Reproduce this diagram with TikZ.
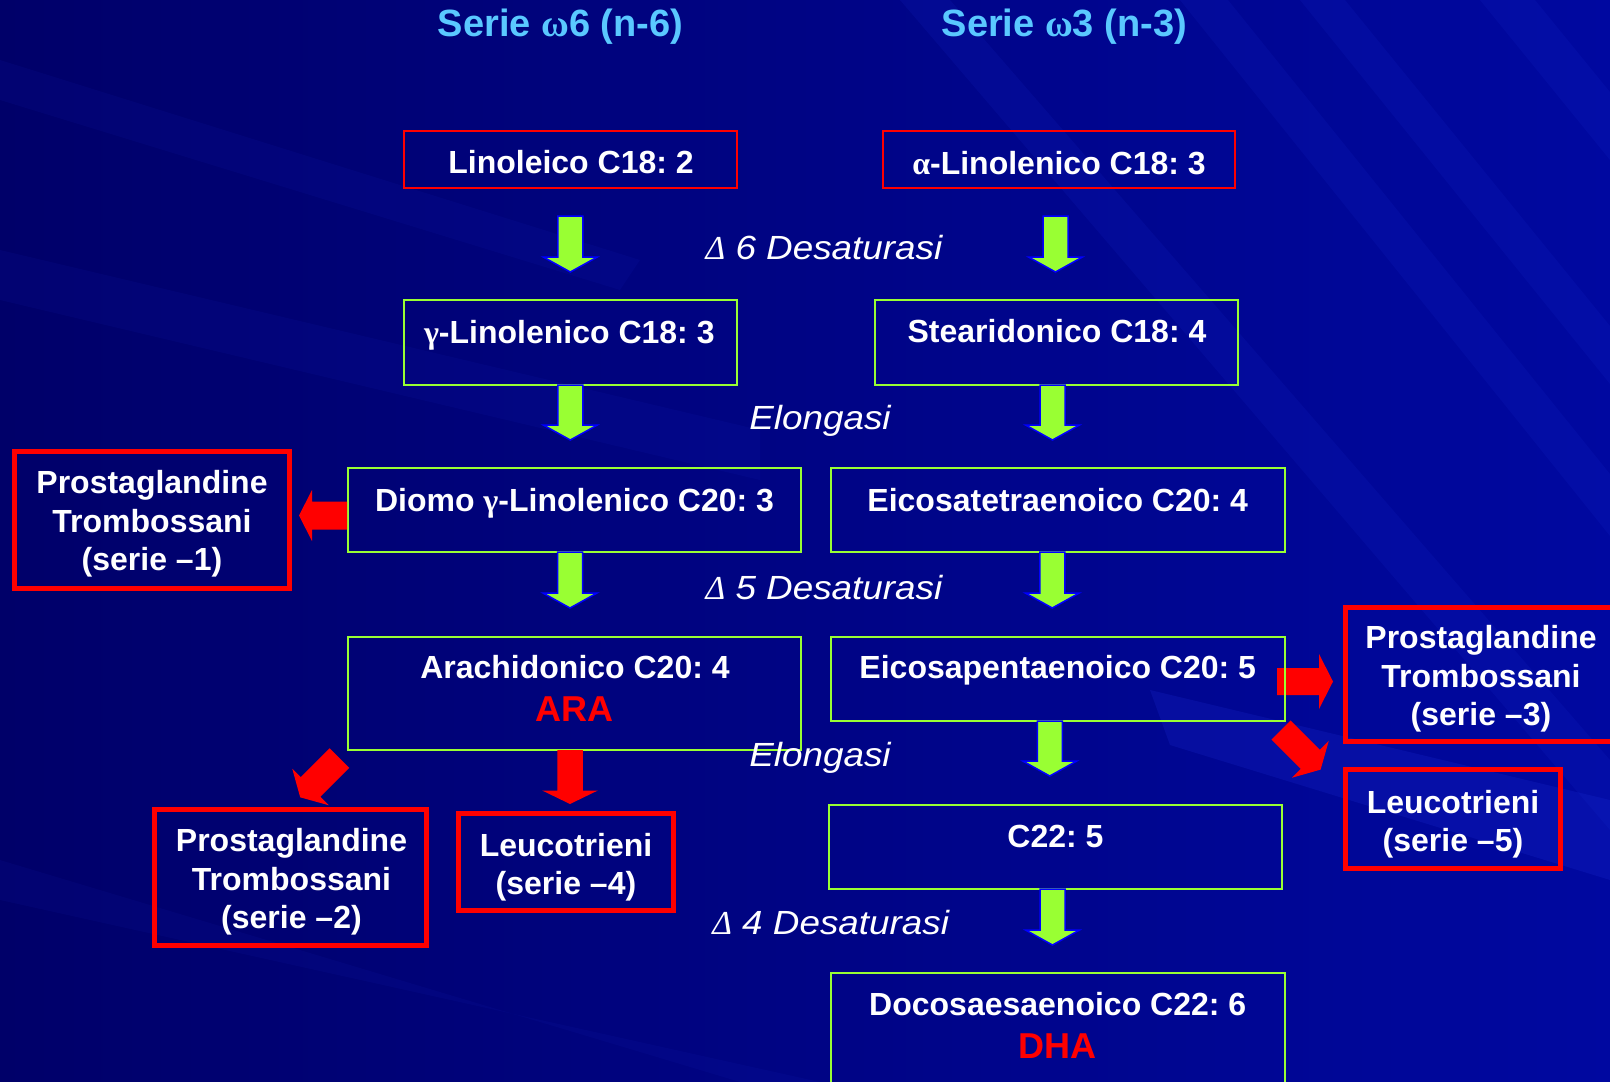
\documentclass[tikz,border=0pt]{standalone}
\usepackage{fontspec}
\setmainfont{Liberation Sans}
\newfontfamily\grk{Liberation Serif}
\newfontfamily\labf{Liberation Sans}[FakeStretch=1.1]
\usetikzlibrary{calc}
\frenchspacing
\definecolor{bgA}{RGB}{0,0,105}
\definecolor{bgB}{RGB}{0,8,160}
\definecolor{streak}{RGB}{30,50,220}
\definecolor{gline}{RGB}{153,255,51}
\definecolor{garredge}{RGB}{0,0,255}
\definecolor{headc}{RGB}{90,200,255}
\definecolor{rline}{RGB}{255,0,0}
\pgfdeclarelayer{bg}
\pgfdeclarelayer{back}
\pgfsetlayers{bg,back,main}
% #1 style, #2 start, #3 angle, #4 length, #5 head length, #6 shaft half width, #7 head half width
\newcommand\blockarrow[7]{%
  \path[#1, shift={#2}, rotate=#3] (0,#6) -- ({#4-#5},#6) -- ({#4-#5},#7) -- (#4,0)
     -- ({#4-#5},-#7) -- ({#4-#5},-#6) -- (0,-#6) -- cycle;}
\tikzset{
  thinred/.style={draw=rline, line width=2pt, inner sep=0pt, outer sep=0pt},
  gbox/.style={draw=gline, line width=2pt, inner sep=0pt, outer sep=0pt},
  pbox/.style={draw=rline, line width=5pt, inner sep=0pt, outer sep=0pt},
  btxt/.style={text=white, inner sep=0pt, font=\fontsize{32}{38.5}\selectfont\bfseries, text height=22.9pt, text depth=0pt},
  mtxt/.style={text=white, inner sep=0pt, align=center, font=\fontsize{32}{38.5}\selectfont\bfseries},
  bigred/.style={text=rline, inner sep=0pt, font=\fontsize{36}{40}\selectfont\bfseries, text height=25.8pt, text depth=0pt},
  headtxt/.style={text=headc, inner sep=0pt, font=\fontsize{38}{42}\selectfont\bfseries, text height=27.2pt, text depth=0pt},
  labtxt/.style={text=white, inner sep=0pt, font=\labf\fontsize{33.5}{38}\selectfont\itshape, text height=24pt, text depth=0pt},
  garr/.style={fill=gline, draw=garredge, line width=1.5pt, line join=miter},
  rarr/.style={fill=rline},
  streakfill/.style={fill=streak, opacity=0.12}
}
\begin{document}
\begin{tikzpicture}[x=1pt,y=1pt]
\useasboundingbox (0,0) rectangle (1610,-1082);
\begin{pgfonlayer}{bg}
  \shade[left color=bgA, right color=bgB] (0,0) rectangle (1610,-1082);
  \fill[streakfill] (1180,0) -- (1228,0) -- (1610,-474) -- (1610,-536) -- cycle;
  \fill[streakfill] (1300,0) -- (1345,0) -- (1610,-326) -- (1610,-384) -- cycle;
  \fill[streakfill] (1480,0) -- (1535,0) -- (1610,-92) -- (1610,-160) -- cycle;
  \fill[streakfill] (900,0) -- (950,0) -- (1610,-760) -- (1610,-830) -- cycle;
  \fill[streakfill, opacity=0.08] (0,-250) -- (0,-300) -- (760,-480) -- (760,-430) -- cycle;
  \fill[streakfill, opacity=0.08] (0,-60) -- (0,-100) -- (620,-290) -- (640,-260) -- cycle;
  \fill[streakfill, opacity=0.2] (1150,-690) -- (1170,-745) -- (1610,-880) -- (1610,-800) -- cycle;
  \fill[streakfill, opacity=0.07] (0,-860) -- (0,-900) -- (820,-1082) -- (740,-1082) -- cycle;
\end{pgfonlayer}

% headings
\node[headtxt] (h6) at (560.6,-23) {Serie {\grk ω}6 (n-6)};
\node[headtxt] (h3) at (1064.3,-23) {Serie {\grk ω}3 (n-3)};

% boxes
\node[thinred, minimum width=333.5pt, minimum height=57pt] (lin) at (570.3,-159.5) {};
\node[thinred, minimum width=352pt, minimum height=57pt] (alin) at (1059,-159.5) {};
\node[gbox, minimum width=333.5pt, minimum height=85pt] (glin) at (570.3,-342.5) {};
\node[gbox, minimum width=363pt, minimum height=85pt] (stea) at (1056.5,-342.5) {};
\node[gbox, minimum width=453pt, minimum height=84pt] (diomo) at (574.5,-510) {};
\node[gbox, minimum width=453.5pt, minimum height=84pt] (eta) at (1057.75,-510) {};
\node[gbox, minimum width=453pt, minimum height=113pt] (ara) at (574.5,-693.5) {};
\node[gbox, minimum width=453.5pt, minimum height=84pt] (epa) at (1057.75,-679) {};
\node[gbox, minimum width=453pt, minimum height=84pt] (c225) at (1055.5,-847) {};
\node[gbox, minimum width=453.5pt, minimum height=122pt] (dha) at (1057.75,-1034) {};
\node[pbox, minimum width=275pt, minimum height=137pt] (pg1) at (152,-520) {};
\node[pbox, minimum width=272pt, minimum height=136pt] (pg2) at (290.5,-877.5) {};
\node[pbox, minimum width=215pt, minimum height=97pt] (lt4) at (566,-862) {};
\node[pbox, minimum width=271pt, minimum height=134pt] (pg3) at (1481,-674.5) {};
\node[pbox, minimum width=215pt, minimum height=99pt] (lt5) at (1453,-819) {};

% box texts
\node[btxt] (tlin) at ($(lin.north)+(0.7,-31.5)$) {Linoleico C18: 2};
\node[btxt] (talin) at ($(alin.north)+(0,-31.8)$) {{\grk α}-Linolenico C18: 3};
\node[btxt] (tglin) at ($(glin.north)+(-1,-32)$) {{\grk γ}-Linolenico C18: 3};
\node[btxt] (tstea) at ($(stea.north)+(0.5,-31)$) {Stearidonico C18: 4};
\node[btxt] (tdiomo) at ($(diomo.north)+(0,-32)$) {Diomo {\grk γ}-Linolenico C20: 3};
\node[btxt] (teta) at ($(eta.north)+(0,-32)$) {Eicosatetraenoico C20: 4};
\node[btxt] (tara) at ($(ara.north)+(0.5,-30)$) {Arachidonico C20: 4};
\node[bigred] (tara2) at ($(ara.north)+(0,-71.5)$) {ARA};
\node[btxt] (tepa) at ($(epa.north)+(0,-30)$) {Eicosapentaenoico C20: 5};
\node[btxt] (tc225) at ($(c225.north)+(0,-31)$) {C22: 5};
\node[btxt] (tdha) at ($(dha.north)+(0,-31)$) {Docosaesaenoico C22: 6};
\node[bigred] (tdha2) at ($(dha.north)+(0,-73)$) {DHA};
\node[mtxt] (tpg1) at ($(pg1.center)+(0,-4)$) {Prostaglandine\\Trombossani\\(serie –1)};
\node[mtxt] (tpg2) at ($(pg2.center)+(1,-4.5)$) {Prostaglandine\\Trombossani\\(serie –2)};
\node[mtxt] (tlt4) at ($(lt4.center)+(0,-5)$) {Leucotrieni\\(serie –4)};
\node[mtxt] (tpg3) at ($(pg3.center)+(0,-4.5)$) {Prostaglandine\\Trombossani\\(serie –3)};
\node[mtxt] (tlt5) at ($(lt5.center)+(0,-5)$) {Leucotrieni\\(serie –5)};

% enzyme labels
\node[labtxt] (l1) at (824,-247.5) {{\grk Δ} 6 Desaturasi};
\node[labtxt] (l2) at (820,-417) {Elongasi};
\node[labtxt] (l3) at (824,-587) {{\grk Δ} 5 Desaturasi};
\node[labtxt] (l4) at (820,-754) {Elongasi};
\node[labtxt] (l5) at (830.7,-922) {{\grk Δ} 4 Desaturasi};

% green arrows
\blockarrow{garr}{($(lin.south)+(0,-28)$)}{-90}{56}{15}{12.5}{27}
\blockarrow{garr}{($(alin.south -| stea.north)+(-1,-28)$)}{-90}{56}{15}{12.5}{27}
\blockarrow{garr}{(glin.south)}{-90}{55}{15}{12.5}{27}
\blockarrow{garr}{($(stea.south)+(-4,0)$)}{-90}{55}{15}{12.5}{27}
\blockarrow{garr}{($(diomo.south)+(-4.5,0)$)}{-90}{56}{15}{12.5}{27}
\blockarrow{garr}{($(eta.south)+(-5.5,0)$)}{-90}{56}{15}{12.5}{27}
\blockarrow{garr}{($(epa.south)+(-8,0)$)}{-90}{55}{15}{12.5}{27}
\blockarrow{garr}{($(c225.south)+(-3,0)$)}{-90}{56}{15}{12.5}{27}

% red arrows
\blockarrow{rarr}{($(diomo.west)+(-1,-5.5)$)}{180}{48}{13}{14}{25.5}
\blockarrow{rarr}{($(ara.south west)+(-8.5,-8)$)}{-135}{55.6}{14.6}{13.8}{25.8}
\blockarrow{rarr}{($(ara.south)+(-4.5,0)$)}{-90}{54}{13.5}{12.75}{27.8}
\begin{pgfonlayer}{back}
\blockarrow{rarr}{($(epa.east)+(-7.5,-2.5)$)}{0}{56}{14}{13.5}{27.5}
\end{pgfonlayer}
\blockarrow{rarr}{($(epa.south east)+(-3.5,-9)$)}{-45}{56}{14.5}{13.5}{26}
\end{tikzpicture}
\end{document}
